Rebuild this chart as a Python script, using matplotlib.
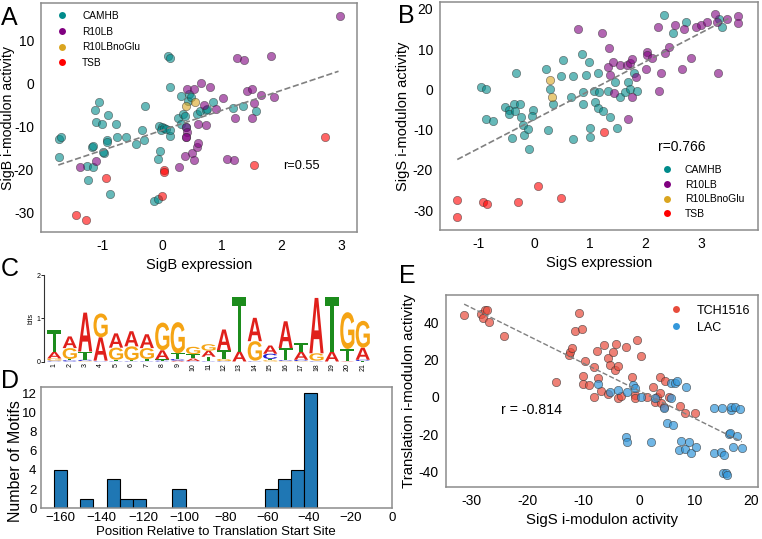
import matplotlib
matplotlib.use("Agg")
import matplotlib.pyplot as plt
import matplotlib.transforms as mtransforms
import numpy as np
from matplotlib.font_manager import FontProperties
from matplotlib.lines import Line2D
from matplotlib.patches import PathPatch
from matplotlib.textpath import TextPath
from matplotlib.ticker import FuncFormatter

plt.rcParams["font.family"] = ["Liberation Sans", "DejaVu Sans"]
plt.rcParams["axes.unicode_minus"] = False

# ---- panel A: SigB ----
a_camhb_x = [-1.73, -1.70, -1.72, -1.18, -1.15, -1.26, -1.16, -1.24, -1.06, -1.13, -1.10, -1.00,
             -0.91, -0.92, -0.92, -0.98, -0.99, -0.88, -0.75, -0.77, -0.61, -0.43, -0.33, -0.31,
             -0.29, -0.05, 0.00, -0.02, 0.03, 0.06, -0.03, -0.06, -0.14, -0.07, 0.10, 0.13, 0.13,
             0.13, 0.13, 0.31, 0.26, 0.32, 0.35, 0.38, 0.41, 0.44, 0.45, 0.49, 0.58, 0.63, 0.73,
             0.76, 0.85, 1.19, 1.36, 1.57]
a_camhb_y = [-12.9, -12.4, -17.0, -14.7, -14.5, -19.1, -19.3, -22.3, -4.3, -6.2, -8.9, -9.3,
             -7.3, -13.0, -13.5, -16.1, -16.0, -25.5, -12.5, -9.5, -12.4, -14.1, -10.8, -13.0,
             -5.2, -9.9, -10.1, -10.8, -10.3, -10.6, -15.6, -17.6, -27.2, -26.8, 6.3, 5.9, -0.9,
             -12.1, -10.8, -3.0, -8.1, -9.4, -7.0, -7.6, -10.1, -4.0, -2.4, -3.2, -7.2, -6.3, -6.2,
             -6.0, -4.3, -5.6, -5.3, -6.4]
a_r10lb_x = [-1.38, -1.10, 0.42, 0.53, 0.66, 0.81, 0.41, 0.42, 0.41, 0.40, 0.38, 0.50, 0.54,
             0.58, 0.61, 0.28, 0.61, 0.74, 0.70, 0.90, 1.03, 1.09, 1.21, 1.26, 1.37, 1.42, 1.51,
             1.51, 1.55, 1.22, 1.66, 1.83, 1.88, 2.98]
a_r10lb_y = [-19.3, -17.9, -1.4, -1.4, 0.0, -0.8, -10.2, -11.2, -12.4, -12.5, -16.9, -16.2, -17.8,
             -14.7, -13.8, -19.3, -9.3, -9.7, -5.0, -6.0, -3.5, -17.5, -17.8, 5.8, 5.4, -1.7, -1.2,
             -8.1, -4.5, -8.0, -2.6, 6.3, -3.1, 15.6]
a_noglu_x = [0.41, 0.55]
a_noglu_y = [-5.3, -4.3]
a_tsb_x = [-1.44, -1.27, -0.94, 0.04, 0.04, 0.00, 1.54, 2.74]
a_tsb_y = [-30.5, -31.7, -22.0, -20.0, -20.5, -26.1, -18.9, -12.5]
a_fit_x = [-1.74, 2.96]
a_fit_y = [-18.9, 2.8]

# ---- panel B: SigS ----
b_camhb_x = [-0.95, -0.87, -0.87, -0.74, -0.32, -0.53, -0.45, -0.46, -0.37, -0.35, -0.26, -0.24,
             -0.20, -0.18, -0.11, -0.10, -0.40, -0.02, -0.03, 0.22, 0.25, 0.29, 0.34, 0.49, 0.52,
             0.66, 0.69, 0.70, 0.86, 0.88, 0.87, 0.94, 0.99, 1.00, 1.01, 1.07, 1.09, 1.15, 1.15,
             1.17, 1.23, 1.33, 1.37, 1.45, 1.49, 1.55, 1.63, 1.69, 1.73, 1.79, 1.84, 2.33, 2.50,
             2.72, 3.32, 3.37]
b_camhb_y = [0.5, 0.0, -7.4, -7.8, 4.1, -4.3, -5.0, -6.1, -3.7, -5.3, -3.7, -6.9, -8.8, -11.3,
             -9.9, -14.9, -12.0, -5.0, -6.6, 5.0, -10.1, 0.2, -3.6, 3.3, 7.3, -2.0, -12.4, 3.3,
             8.9, -0.6, -3.5, 3.6, 6.9, -9.7, -11.9, -0.3, -3.1, -4.5, 4.0, -0.6, -5.3, -0.3,
             -6.9, 1.9, -9.5, -2.0, -0.6, 1.9, 0.2, 4.1, -0.3, 18.4, 14.0, 16.8, 17.6, 15.5]
b_r10lb_x = [0.79, 1.22, 1.35, 1.32, 1.36, 1.42, 1.43, 1.54, 1.66, 1.69, 1.73, 1.75, 1.75, 1.83,
             2.01, 2.03, 2.02, 2.12, 2.23, 2.25, 2.28, 2.35, 2.43, 2.53, 2.65, 2.69, 2.81, 2.90,
             2.99, 3.10, 3.25, 3.28, 3.31, 3.47, 3.66, 3.66]
b_r10lb_y = [15.1, 14.1, 10.4, 5.6, 3.6, 6.9, -0.8, 6.0, 6.0, -7.4, 6.6, 7.5, -2.0, 3.0, 5.0,
             9.3, 8.5, 7.9, 15.5, -0.3, 4.1, 9.1, 10.6, 16.0, 5.0, 14.9, 7.9, 15.5, 16.0, 16.8,
             18.8, 16.8, 4.1, 17.4, 18.2, 16.5]
b_noglu_x = [0.29, 0.32]
b_noglu_y = [2.3, -2.0]
b_tsb_x = [-1.38, -1.38, -0.92, -0.84, -0.29, 0.07, 0.48, 1.25]
b_tsb_y = [-27.4, -31.6, -27.9, -28.4, -27.9, -24.1, -27.0, -10.5]
b_fit_x = [-1.38, 3.49]
b_fit_y = [-17.4, 17.6]

media = ["CAMHB", "R10LB", "R10LBnoGlu", "TSB"]
media_colors = ["#008b8b", "#800080", "#daa520", "#ff0000"]

# ---- panel C: motif logo (bits per letter, positions 1..21) ----
logo_pos = list(range(1, 22))
logo_A = [0.15, 0.27, 0.90, 0.54, 0.33, 0.35, 0.32, 0.21, 0.02, 0.06, 0.14, 0.48, 0.23, 0.54,
          0.19, 0.62, 0.19, 1.28, 0.23, 0.01, 0.28]
logo_C = [0.02, 0.03, 0.03, 0.01, 0.01, 0.01, 0.01, 0.02, 0.04, 0.01, 0.01, 0.01, 0.00, 0.01,
          0.12, 0.02, 0.03, 0.01, 0.00, 0.00, 0.03]
logo_G = [0.05, 0.25, 0.01, 0.55, 0.28, 0.32, 0.25, 0.64, 0.72, 0.17, 0.15, 0.05, 0.00, 0.45,
          0.03, 0.01, 0.01, 0.17, 0.00, 0.85, 0.62]
logo_T = [0.50, 0.03, 0.19, 0.01, 0.03, 0.02, 0.05, 0.03, 0.13, 0.10, 0.10, 0.20, 1.25, 0.01,
          0.03, 0.28, 0.19, 0.01, 1.25, 0.28, 0.01]
letter_colors = {"A": "#e0201b", "C": "#2020d0", "G": "#f5a414", "T": "#1c8c1c"}

# ---- panel D: motif positions histogram ----
hist_edges = np.linspace(-163, -36, 21)
hist_counts = [4, 0, 1, 0, 3, 1, 1, 0, 0, 2, 0, 0, 0, 0, 0, 0, 2, 3, 4, 12]

# ---- panel E: SigS vs Translation ----
e_tch_x = [-31.3, -28.3, -27.6, -27.2, -27.9, -26.9, -24.1, -14.9, -12.6, -12.3, -12.0, -11.5,
           -10.7, -10.2, -9.7, -10.0, -10.1, -8.9, -8.0, -8.0, -7.6, -7.3, -6.8, -6.2, -5.6,
           -5.5, -5.2, -4.6, -4.2, -4.3, -3.8, -3.8, -3.2, -2.4, -1.2, -0.8, -0.8, -0.3, 0.3,
           1.5, 2.5, 2.9, 3.3, 3.7, 3.8, 4.0, 4.7, 4.5, 7.4, 8.2, 10.0, 5.4]
e_tch_y = [43.8, 44.3, 46.4, 46.4, 42.0, 39.8, 32.5, 8.0, 22.3, 24.1, 25.9, 35.4, 44.6, 36.1,
           19.1, 11.1, 6.8, 6.3, 15.7, -0.4, 24.5, 9.8, 3.2, 27.7, 20.5, 1.4, 17.0, 24.1, 28.2,
           14.3, 16.4, -0.9, 0.4, 26.8, 10.4, 0.9, -0.9, 30.4, 21.8, 0.0, 5.0, -2.7, -0.4, 1.8,
           10.4, -3.6, 8.6, -5.4, -5.0, -8.9, -8.6, -0.4]
e_lac_x = [-7.3, -5.2, -3.8, -2.2, -2.4, -2.2, -1.1, -0.8, 0.4, 2.1, 2.8, 4.5, 5.1, 5.7, 6.0,
           5.8, 6.5, 6.8, 7.1, 7.5, 8.3, 8.5, 8.9, 9.3, 10.2, 13.5, 13.5, 14.9, 14.7, 15.0, 15.5,
           15.8, 15.3, 16.4, 16.5, 16.1, 16.2, 16.8, 17.1, 17.5, 18.0, 18.4]
e_lac_y = [6.6, 2.7, 3.6, 2.7, -21.4, -24.1, 6.3, 4.5, 0.0, -24.1, -0.9, -6.3, -13.9, -0.9,
           -15.2, 7.1, 7.1, 8.6, -28.6, -23.6, -28.2, 5.4, -24.1, -30.4, -27.1, -6.3, -30.4,
           -6.3, -29.5, -40.7, -41.1, -42.0, -31.3, -7.1, -5.7, -20.0, -19.6, -27.1, -5.7,
           -21.1, -6.8, -27.7]
e_fit_x = [-31.3, 18.4]
e_fit_y = [49.6, -24.1]
strains = ["TCH1516", "LAC"]
strain_colors = ["#e74c3c", "#3498db"]

SPINE_COLOR = "#8c8c8c"
TICK_SIZE = 10
LABEL_SIZE = 10.5
PANEL_SIZE = 18
MARKER_S = 36


def style_axes(ax):
    for sp in ax.spines.values():
        sp.set_color(SPINE_COLOR)
        sp.set_linewidth(1.1)
    ax.tick_params(length=0, labelsize=TICK_SIZE, pad=5)


def scatter_group(ax, xs, ys, color, alpha=0.6):
    ax.scatter(xs, ys, s=MARKER_S, color=color, alpha=alpha,
               edgecolors="#333333", linewidths=0.5, zorder=3)


def add_legend(ax, labels, colors, x, y, size, pad, spacing):
    handles = [Line2D([], [], ls="none", marker="o", ms=5, color=c, mec="none", label=l)
               for l, c in zip(labels, colors)]
    ax.legend(handles=handles, loc="upper left", bbox_to_anchor=(x, y), frameon=False,
              fontsize=size, handlelength=1.0, handletextpad=pad, labelspacing=spacing,
              borderpad=0, borderaxespad=0)


def draw_letter(ax, ch, x, y, w, h, color, fp):
    tp = TextPath((0, 0), ch, size=1, prop=fp)
    bb = tp.get_extents()
    tr = mtransforms.Affine2D().translate(-bb.x0, -bb.y0) \
        .scale(w / bb.width, h / bb.height).translate(x - w / 2., y)
    ax.add_patch(PathPatch(tr.transform_path(tp), fc=color, ec="none", lw=0))


W, H = 762, 539
fig = plt.figure(figsize=(W / 100., H / 100.), dpi=100)


def px_axes(left, top, right, bottom):
    return fig.add_axes([left / W, 1 - bottom / H, (right - left) / W, (bottom - top) / H])


# panel A
axA = px_axes(41, 3, 357, 232)
style_axes(axA)
for xs, ys, c in [(a_camhb_x, a_camhb_y, media_colors[0]), (a_r10lb_x, a_r10lb_y, media_colors[1]),
                  (a_noglu_x, a_noglu_y, media_colors[2]), (a_tsb_x, a_tsb_y, media_colors[3])]:
    scatter_group(axA, xs, ys, c)
axA.plot(a_fit_x, a_fit_y, "--", color="grey", lw=1.2, zorder=4)
axA.set_xlim(-2.03, 3.27)
axA.set_ylim(-34.4, 18.6)
axA.set_xticks([-1, 0, 1, 2, 3])
axA.set_yticks([-30, -20, -10, 0, 10])
axA.set_xlabel("SigB expression", fontsize=LABEL_SIZE, labelpad=4)
axA.set_ylabel("SigB i-modulon activity", fontsize=10.2)
axA.yaxis.set_label_coords(-0.082, 0.5)
axA.text(2.03, -19.1, "r=0.55", fontsize=9.2, va="center", ha="left")
add_legend(axA, media, media_colors, 0.05, 0.965, 7.3, 1.5, 0.55)

# panel B
axB = px_axes(440, 2, 758, 230)
style_axes(axB)
for xs, ys, c in [(b_camhb_x, b_camhb_y, media_colors[0]), (b_r10lb_x, b_r10lb_y, media_colors[1]),
                  (b_noglu_x, b_noglu_y, media_colors[2]), (b_tsb_x, b_tsb_y, media_colors[3])]:
    scatter_group(axB, xs, ys, c)
axB.plot(b_fit_x, b_fit_y, "--", color="grey", lw=1.2, zorder=4)
axB.set_xlim(-1.69, 4.02)
axB.set_ylim(-34.9, 21.7)
axB.set_xticks([-1, 0, 1, 2, 3])
axB.set_yticks([-30, -20, -10, 0, 10, 20])
axB.set_xlabel("SigS expression", fontsize=LABEL_SIZE, labelpad=4)
axB.set_ylabel("SigS i-modulon activity", fontsize=LABEL_SIZE, labelpad=2)
axB.text(2.23, -14.4, "r=0.766", fontsize=10, va="center", ha="left")
add_legend(axB, media, media_colors, 0.698, 0.285, 7.5, 1.2, 0.45)

# panel C: sequence logo
axC = px_axes(44.3, 275, 372, 361.5)
fp = FontProperties(family="Liberation Sans", weight="bold")
for i, p in enumerate(logo_pos):
    stack = sorted([("A", logo_A[i]), ("C", logo_C[i]), ("G", logo_G[i]), ("T", logo_T[i])],
                   key=lambda t: t[1])
    base = 0.0
    for ch, h in stack:
        if h > 0:
            draw_letter(axC, ch, p, base, 0.92, h, letter_colors[ch], fp)
            base += h
axC.set_xlim(0.35, 21.6)
axC.set_ylim(0, 2)
for s in ["top", "right", "bottom"]:
    axC.spines[s].set_visible(False)
axC.spines["left"].set_color("#333333")
axC.spines["left"].set_linewidth(0.8)
axC.set_yticks([0, 1, 2])
axC.set_xticks(logo_pos)
axC.set_xticklabels([str(p) for p in logo_pos], rotation=90)
axC.tick_params(axis="y", labelsize=5, length=2, width=0.6, pad=1)
axC.tick_params(axis="x", labelsize=5, length=0, pad=1)
axC.set_ylabel("bits", fontsize=5, labelpad=1)

# panel D: histogram
axD = px_axes(40.7, 387.3, 392, 508.3)
style_axes(axD)
centers = (hist_edges[:-1] + hist_edges[1:]) / 2.
axD.hist(centers, bins=hist_edges, weights=hist_counts, color="#1f77b4",
         edgecolor="black", linewidth=0.8)
axD.set_xlim(-169.35, 0)
axD.set_ylim(0, 12.6)
axD.set_xticks(np.arange(-160, 1, 20))
axD.set_yticks(np.arange(0, 13, 2))
axD.xaxis.set_major_formatter(FuncFormatter(lambda v, pos: ("%d" % v).replace("-", "\u2212")))
axD.tick_params(labelsize=9.5, pad=3)
axD.set_xlabel("Position Relative to Translation Start Site", fontsize=9.5, labelpad=1)
axD.set_ylabel("Number of Motifs", fontsize=11.5)
axD.yaxis.set_label_coords(-0.05, 0.39)

# panel E
axE = px_axes(445.7, 295, 758, 486.7)
style_axes(axE)
scatter_group(axE, e_tch_x, e_tch_y, strain_colors[0], alpha=0.7)
scatter_group(axE, e_lac_x, e_lac_y, strain_colors[1], alpha=0.7)
axE.plot(e_fit_x, e_fit_y, "--", color="grey", lw=1.0, zorder=4)
axE.set_xlim(-34.6, 21.3)
axE.set_ylim(-48.2, 54.5)
axE.set_xticks([-30, -20, -10, 0, 10, 20])
axE.set_yticks([-40, -20, 0, 20, 40])
axE.set_xlabel("SigS i-modulon activity", fontsize=10.8, labelpad=4)
axE.set_ylabel("Translation i-modulon activity", fontsize=10.8, labelpad=2)
axE.text(-24.7, -7.1, "r = -0.814", fontsize=10.2, va="center", ha="left")
add_legend(axE, strains, strain_colors, 0.718, 0.95, 9, 1.16, 0.4)

# panel letters
for lab, x, y in [("A", 1, 25), ("B", 398, 23), ("C", 1, 276), ("D", 1, 388), ("E", 399, 283)]:
    fig.text(x / W, 1 - y / H, lab, fontsize=PANEL_SIZE, ha="left", va="baseline")

fig.savefig("out.png", dpi=100)
